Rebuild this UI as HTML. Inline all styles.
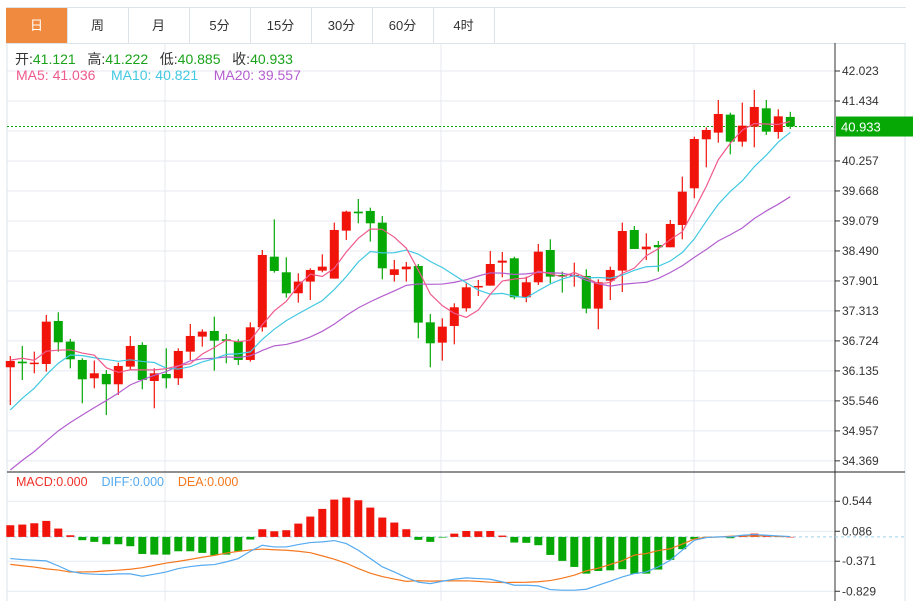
<!DOCTYPE html>
<html><head><meta charset="utf-8">
<style>
body{margin:0;background:#fff;font-family:"Liberation Sans","Noto Sans CJK SC",sans-serif;}
#wrap{position:relative;width:915px;height:601px;overflow:hidden;background:#fff;}
.tabs{position:absolute;left:6px;top:7px;height:35px;width:900px;border-top:1px solid #dde3ea;border-bottom:1px solid #dde3ea;}
.tab{position:absolute;top:0;height:35px;width:61px;border-right:1px solid #dde3ea;text-align:center;line-height:35px;font-size:13px;color:#333;}
.tab.active{background:#f08a3e;color:#fff;}
svg{position:absolute;left:0;top:0;}
</style></head><body>
<div id="wrap">
<div class="tabs">
 <div class="tab active" style="left:0">日</div>
 <div class="tab" style="left:61px">周</div>
 <div class="tab" style="left:122px">月</div>
 <div class="tab" style="left:183px">5分</div>
 <div class="tab" style="left:244px">15分</div>
 <div class="tab" style="left:305px">30分</div>
 <div class="tab" style="left:366px">60分</div>
 <div class="tab" style="left:427px">4时</div>
</div>
<svg id="chart" width="915" height="601"></svg>
</div>
<script>
const opens=[36.206,36.317,36.271,36.271,37.115,36.710,36.350,35.990,36.075,35.872,36.219,36.644,35.937,36.075,35.990,36.513,36.808,36.919,36.756,36.723,36.350,36.991,38.378,38.071,37.659,37.888,38.104,37.947,38.889,39.262,39.275,39.046,38.019,38.130,38.195,37.089,36.690,37.017,37.364,37.776,37.809,38.260,38.346,37.580,37.875,38.509,38.019,37.986,37.999,37.358,37.907,38.104,38.902,38.522,38.607,38.562,39.000,39.720,40.682,40.813,41.166,40.636,40.931,41.290,40.826,41.121];
const closes=[36.330,36.284,36.297,37.102,36.697,36.363,35.970,36.088,35.872,36.232,36.625,35.957,36.088,35.990,36.526,36.821,36.906,36.729,36.723,36.350,36.991,38.411,38.097,37.659,37.888,38.117,38.182,38.902,39.262,39.229,39.033,38.149,38.130,38.182,37.083,36.677,37.004,37.384,37.776,37.803,38.234,38.300,37.580,37.875,38.476,37.986,37.986,38.019,37.358,37.875,38.117,38.882,38.529,38.575,38.562,39.020,39.654,40.688,40.865,41.179,40.636,40.950,41.317,40.832,41.133,40.933];
const highs=[36.428,36.625,36.513,37.233,37.286,36.762,36.383,36.337,36.153,36.297,36.821,36.697,36.186,36.579,36.579,37.056,36.952,37.200,36.860,36.756,37.089,38.509,39.111,38.365,38.051,38.149,38.424,39.046,39.281,39.510,39.340,39.177,38.313,38.274,38.234,37.253,37.168,37.462,37.855,37.920,38.490,38.470,38.378,37.986,38.627,38.719,38.084,38.260,38.130,37.933,38.182,39.046,38.980,38.836,38.686,39.098,39.949,40.734,40.917,41.454,41.205,41.402,41.650,41.454,41.271,41.222];
const lows=[35.466,35.957,36.088,36.121,36.513,36.186,35.499,35.793,35.270,35.662,36.153,35.774,35.401,35.793,35.859,36.350,36.612,36.140,36.284,36.252,36.317,36.906,38.064,37.573,37.475,37.528,38.071,37.947,38.706,39.033,38.673,37.933,37.888,37.888,36.775,36.206,36.337,36.657,37.299,37.606,37.809,37.973,37.541,37.482,37.822,37.855,37.672,37.789,37.266,36.952,37.528,37.685,38.529,38.313,38.084,38.562,38.719,39.524,40.132,40.616,40.387,40.538,40.525,40.767,40.695,40.885];
const priorCloses=[32.5,32.8,33.0,32.7,33.1,33.0,33.2,33.1,33.3,33.4,34.0,34.3,34.5,34.4,34.75,36.1,36.5,36.2,36.6];
const macdHist=[0.178,0.188,0.208,0.244,0.127,0.025,-0.05,-0.076,-0.112,-0.112,-0.142,-0.26,-0.27,-0.27,-0.219,-0.219,-0.244,-0.28,-0.27,-0.219,-0.04,0.117,0.086,0.102,0.203,0.31,0.427,0.569,0.6,0.559,0.447,0.295,0.219,0.117,-0.045,-0.076,-0.01,0.05,0.09,0.086,0.09,0.02,-0.086,-0.09,-0.127,-0.275,-0.366,-0.458,-0.56,-0.52,-0.51,-0.493,-0.564,-0.56,-0.498,-0.35,-0.188,-0.036,-0.01,0.005,-0.02,0.015,0.05,0.01,0.02,0];
const diffs=[-0.330,-0.346,-0.356,-0.366,-0.442,-0.524,-0.559,-0.569,-0.574,-0.564,-0.564,-0.600,-0.569,-0.534,-0.483,-0.452,-0.432,-0.422,-0.381,-0.330,-0.219,-0.127,-0.153,-0.153,-0.117,-0.086,-0.076,-0.056,-0.102,-0.203,-0.330,-0.457,-0.534,-0.620,-0.69,-0.712,-0.676,-0.646,-0.625,-0.635,-0.646,-0.686,-0.737,-0.737,-0.747,-0.803,-0.813,-0.813,-0.798,-0.737,-0.676,-0.61,-0.559,-0.534,-0.457,-0.356,-0.203,-0.051,-0.01,0,0,0.025,0.036,0.025,0.015,0.005];
const priceTicks=[42.023,41.434,40.845,40.257,39.668,39.079,38.490,37.901,37.313,36.724,36.135,35.546,34.957,34.369];
const priceTickLabels=["42.023","41.434","","40.257","39.668","39.079","38.490","37.901","37.313","36.724","36.135","35.546","34.957","34.369"];
const macdTicks=[0.544,0.086,-0.371,-0.829];
const macdTickLabels=["0.544","0.086","-0.371","-0.829"];
const lastPrice=40.933;

const svg=document.getElementById('chart');
const NS='http://www.w3.org/2000/svg';
function mk(tag,attrs,parent){const e=document.createElementNS(NS,tag);for(const k in attrs)e.setAttribute(k,attrs[k]);(parent||svg).appendChild(e);return e;}
const L=7,R=835,MT=43,MB=472;
const xOf=i=>10.3+12*i;
const yP=p=>71+(42.023-p)/0.589*30;
const yM=v=>536.9-v*65.57;
const RED='#f0140a',GREEN='#06a806';

const grid=mk('g',{});


priceTicks.forEach(t=>{mk('line',{x1:L,x2:R,y1:yP(t),y2:yP(t),stroke:'#e4eaf0','stroke-width':1},grid);});
macdTicks.forEach(t=>{mk('line',{x1:L,x2:R,y1:yM(t),y2:yM(t),stroke:'#e4eaf0','stroke-width':1},grid);});
[165,441,694].forEach(x=>{mk('line',{x1:x,x2:x,y1:MT,y2:601,stroke:'#e4eaf0','stroke-width':1},grid);});
mk('line',{x1:L,x2:L,y1:MT,y2:601,stroke:'#dde3ea'});
mk('line',{x1:905,x2:905,y1:MT,y2:601,stroke:'#dde3ea'});
mk('line',{x1:R,x2:R,y1:MT,y2:601,stroke:'#333'});
mk('line',{x1:L,x2:905,y1:MB,y2:MB,stroke:'#222'});

const yax=mk('g',{'font-size':'12','fill':'#333','font-family':'Liberation Sans, sans-serif'});


priceTicks.forEach((t,k)=>{
  if(!priceTickLabels[k])return;
  mk('line',{x1:R,x2:R+5,y1:yP(t),y2:yP(t),stroke:'#333'},yax);
  const tx=mk('text',{x:R+7,y:yP(t)+4},yax);tx.textContent=priceTickLabels[k];
});
const max=mk('g',{'font-size':'12','fill':'#333','font-family':'Liberation Sans, sans-serif'});


macdTicks.forEach((t,k)=>{
  mk('line',{x1:R,x2:R+5,y1:yM(t),y2:yM(t),stroke:'#333'},max);
  const tx=mk('text',{x:R+7,y:yM(t)+4},max);tx.textContent=macdTickLabels[k];
});

const lp=mk('line',{x1:L,x2:R,y1:yP(lastPrice),y2:yP(lastPrice),stroke:GREEN,'stroke-dasharray':'2,2','stroke-width':1});


const lpb=mk('rect',{x:R+1,y:yP(lastPrice)-10,width:77,height:20,fill:GREEN});


const lpt=mk('text',{x:R+6,y:yP(lastPrice)+5,fill:'#fff','font-size':'13'});
lpt.textContent=lastPrice.toFixed(3);

const cg=mk('g',{});


closes.forEach((c,i)=>{
  const o=opens[i],up=c>=o,col=up?RED:GREEN,x=xOf(i);
  const g=mk('g',{},cg);
  
  
  mk('line',{x1:x,x2:x,y1:yP(highs[i]),y2:yP(lows[i]),stroke:col,'stroke-width':1.2},g);
  const top=yP(Math.max(o,c)),bot=yP(Math.min(o,c));
  mk('rect',{x:x-4.5,y:top,width:9,height:Math.max(1.5,bot-top),fill:col},g);
});

const all=priorCloses.concat(closes);
function ma(n){return closes.map((_,i)=>{const j=i+priorCloses.length;let s=0;for(let k=j-n+1;k<=j;k++)s+=all[k];return s/n;});}
function poly(vals,yf,col,name,w){
  const p=mk('polyline',{points:vals.map((v,i)=>xOf(i)+','+yf(v)).join(' '),fill:'none',stroke:col,'stroke-width':w||1.2});
  
  
}
const ma5=ma(5),ma10=ma(10),ma20=ma(20);
poly(ma20,yP,'#b45fcf','ma20-line');
poly(ma10,yP,'#41c8e2','ma10-line');
poly(ma5,yP,'#ef5a8c','ma5-line');

const zl=mk('line',{x1:L,x2:905,y1:yM(0),y2:yM(0),stroke:'#9fd0ea','stroke-dasharray':'3,3'});


const hg=mk('g',{});


macdHist.forEach((v,i)=>{
  const y0=yM(0),y1=yM(v);
  const b=mk('rect',{x:xOf(i)-4,y:Math.min(y0,y1),width:8,height:Math.max(0.5,Math.abs(y1-y0)),fill:v>=0?RED:GREEN},hg);
  
  
});
const deas=diffs.map((d,i)=>d-macdHist[i]/2);
poly(deas,yM,'#f5781f','dea-line');
poly(diffs,yM,'#55aaf0','diff-line');
</script>
<div style="position:absolute;left:15px;top:49px;font-size:14px;white-space:nowrap"><span style="color:#333">开:</span><span style="color:#1aa31a">41.121</span>&nbsp;&nbsp; <span style="color:#333">高:</span><span style="color:#1aa31a">41.222</span>&nbsp;&nbsp; <span style="color:#333">低:</span><span style="color:#1aa31a">40.885</span>&nbsp;&nbsp; <span style="color:#333">收:</span><span style="color:#1aa31a">40.933</span></div>
<div style="position:absolute;left:16px;top:67px;font-size:14px;white-space:nowrap"><span style="color:#ef5a8c">MA5: 41.036</span>&nbsp;&nbsp;&nbsp; <span style="color:#41c8e2">MA10: 40.821</span>&nbsp;&nbsp;&nbsp; <span style="color:#b45fcf">MA20: 39.557</span></div>
<div style="position:absolute;left:16px;top:475px;font-size:12.5px;white-space:nowrap"><span style="color:#f0302a">MACD:0.000</span>&nbsp;&nbsp;&nbsp; <span style="color:#55aaf0">DIFF:0.000</span>&nbsp;&nbsp;&nbsp; <span style="color:#f5781f">DEA:0.000</span></div>
</body></html>
